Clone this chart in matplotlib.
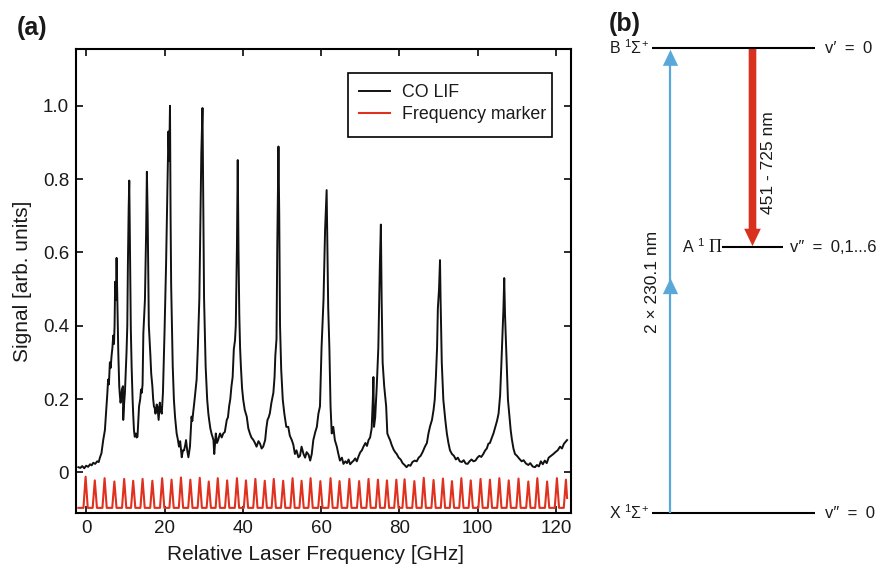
import numpy as np
import matplotlib
matplotlib.use("Agg")
import matplotlib.pyplot as plt
from matplotlib.patches import FancyArrowPatch, Rectangle

plt.rcParams['font.family'] = ['Liberation Sans', 'DejaVu Sans']
plt.rcParams['mathtext.fontset'] = 'custom'
plt.rcParams['mathtext.rm'] = 'Liberation Sans'
plt.rcParams['mathtext.it'] = 'Liberation Sans:italic'

# CO LIF spectrum: (relative laser frequency [GHz], signal [arb. units])
co_lif = [
    (-2.0, 0.014), (-1.5, 0.012), (-1.0, 0.017), (-0.5, 0.011), (0.0, 0.018),
    (0.5, 0.015), (1.0, 0.022), (1.4, 0.019), (1.8, 0.026), (2.3, 0.023),
    (2.8, 0.030), (3.2, 0.028), (3.5, 0.040), (3.9, 0.052), (4.35, 0.088),
    (4.78, 0.115), (5.2, 0.180), (5.4, 0.215), (5.6, 0.253), (5.8, 0.240),
    (6.05, 0.300), (6.25, 0.285), (6.48, 0.318), (6.7, 0.340), (6.9, 0.373),
    (7.1, 0.350), (7.25, 0.400), (7.4, 0.520), (7.6, 0.470), (7.76, 0.585),
    (7.9, 0.500), (8.0, 0.447), (8.2, 0.327), (8.44, 0.235), (8.6, 0.210),
    (8.78, 0.190), (8.95, 0.205), (9.12, 0.226), (9.38, 0.235), (9.46, 0.143),
    (9.7, 0.190), (9.89, 0.217), (10.1, 0.270), (10.3, 0.327), (10.5, 0.400),
    (10.65, 0.567), (10.85, 0.720), (11.0, 0.796),
    (11.2, 0.600), (11.4, 0.390), (11.6, 0.290), (11.85, 0.200), (12.0, 0.160),
    (12.2, 0.115), (12.4, 0.097), (12.7, 0.106), (12.9, 0.095), (13.1, 0.097),
    (13.3, 0.140), (13.5, 0.180), (13.8, 0.200), (14.0, 0.226), (14.2, 0.217),
    (14.4, 0.240), (14.6, 0.380), (15.0, 0.470), (15.3, 0.650), (15.5, 0.820),
    (15.7, 0.700), (16.0, 0.400), (16.2, 0.360), (16.4, 0.318), (16.6, 0.270),
    (16.9, 0.235), (17.1, 0.200), (17.3, 0.180), (17.5, 0.175), (17.7, 0.160),
    (18.0, 0.185), (18.2, 0.180), (18.5, 0.143), (18.8, 0.190), (19.0, 0.170),
    (19.3, 0.160), (19.6, 0.217), (20.0, 0.380), (20.4, 0.567), (20.8, 0.800),
    (21.0, 0.930), (21.2, 0.850), (21.4, 1.000),
    (21.55, 0.700), (21.7, 0.510), (22.1, 0.290), (22.4, 0.198), (22.7, 0.150),
    (23.1, 0.106), (23.4, 0.090), (23.7, 0.070), (24.0, 0.085), (24.4, 0.041),
    (24.7, 0.060), (25.0, 0.060), (25.3, 0.075), (25.5, 0.088), (25.8, 0.060),
    (26.1, 0.041), (26.5, 0.070), (26.9, 0.152), (27.1, 0.140), (27.3, 0.161),
    (27.7, 0.200), (28.2, 0.253), (28.5, 0.336), (28.9, 0.475), (29.2, 0.700),
    (29.4, 0.870), (29.7, 0.994),
    (29.9, 0.750), (30.1, 0.475), (30.5, 0.290), (30.9, 0.198), (31.2, 0.160),
    (31.4, 0.143), (31.7, 0.120), (32.0, 0.106), (32.3, 0.095), (32.5, 0.088),
    (32.7, 0.050), (33.1, 0.106), (33.4, 0.080), (33.7, 0.088), (34.0, 0.100),
    (34.2, 0.106), (34.6, 0.095), (35.0, 0.106), (35.4, 0.110), (35.9, 0.143),
    (36.2, 0.150), (36.5, 0.180), (36.8, 0.200), (37.1, 0.235), (37.4, 0.260),
    (37.7, 0.336), (38.0, 0.360), (38.2, 0.400), (38.5, 0.620), (38.7, 0.852),
    (38.9, 0.600), (39.1, 0.430), (39.3, 0.340), (39.5, 0.290), (39.8, 0.230),
    (40.1, 0.198), (40.5, 0.170), (41.0, 0.152), (41.4, 0.120), (41.8, 0.106),
    (42.2, 0.095), (42.7, 0.088), (43.1, 0.080), (43.5, 0.070), (44.0, 0.085),
    (44.4, 0.078), (44.8, 0.065), (45.2, 0.070), (45.7, 0.088), (46.0, 0.120),
    (46.3, 0.143), (46.6, 0.150), (46.9, 0.161), (47.3, 0.190), (47.8, 0.217),
    (48.1, 0.260), (48.3, 0.318), (48.6, 0.364), (48.8, 0.620), (49.1, 0.889),
    (49.3, 0.700), (49.5, 0.400), (49.8, 0.280), (50.2, 0.198), (50.6, 0.160),
    (51.1, 0.124), (51.6, 0.124), (52.0, 0.100), (52.5, 0.088), (52.9, 0.075),
    (53.3, 0.050), (53.7, 0.060), (54.2, 0.041), (54.6, 0.045), (55.0, 0.070),
    (55.5, 0.050), (55.9, 0.040), (56.3, 0.055), (56.8, 0.048), (57.2, 0.032),
    (57.6, 0.050), (58.0, 0.088), (58.5, 0.110), (58.9, 0.124), (59.3, 0.160),
    (59.7, 0.180), (60.1, 0.340), (60.6, 0.470), (61.0, 0.660), (61.4, 0.770),
    (61.6, 0.600), (61.8, 0.450), (62.1, 0.340), (62.4, 0.180), (62.7, 0.106),
    (63.1, 0.124), (63.5, 0.088), (64.0, 0.070), (64.4, 0.050), (64.8, 0.032),
    (65.3, 0.040), (65.7, 0.023), (66.2, 0.030), (66.6, 0.025), (67.0, 0.035),
    (67.4, 0.022), (67.9, 0.028), (68.3, 0.032), (68.7, 0.038), (69.1, 0.030),
    (69.6, 0.045), (70.0, 0.055), (70.4, 0.060), (70.8, 0.070), (71.3, 0.080),
    (71.7, 0.072), (72.1, 0.088), (72.5, 0.095), (72.9, 0.120), (73.2, 0.200),
    (73.35, 0.260), (73.5, 0.124), (73.8, 0.150), (74.2, 0.235), (74.6, 0.340),
    (75.0, 0.570), (75.25, 0.676),
    (75.45, 0.470), (75.7, 0.300), (76.1, 0.235), (76.6, 0.180), (76.9, 0.106),
    (77.3, 0.095), (77.6, 0.088), (78.0, 0.075), (78.5, 0.062), (78.9, 0.055),
    (79.3, 0.050), (79.8, 0.040), (80.3, 0.035), (80.8, 0.025), (81.3, 0.020),
    (81.8, 0.014), (82.3, 0.020), (82.8, 0.018), (83.3, 0.028), (83.9, 0.032),
    (84.4, 0.030), (84.9, 0.040), (85.4, 0.045), (85.9, 0.055), (86.5, 0.070),
    (87.0, 0.080), (87.4, 0.106), (87.8, 0.125), (88.3, 0.143), (88.7, 0.170),
    (89.0, 0.198), (89.3, 0.260), (89.6, 0.340), (89.8, 0.447), (90.1, 0.500),
    (90.35, 0.579),
    (90.5, 0.470), (90.8, 0.300), (91.2, 0.198), (91.7, 0.143), (92.1, 0.106),
    (92.5, 0.080), (92.9, 0.060), (93.4, 0.050), (93.9, 0.045), (94.4, 0.035),
    (94.9, 0.040), (95.4, 0.030), (95.9, 0.028), (96.4, 0.033), (96.9, 0.024),
    (97.4, 0.023), (97.9, 0.030), (98.4, 0.035), (98.9, 0.030), (99.4, 0.032),
    (99.9, 0.040), (100.4, 0.045), (100.9, 0.042), (101.4, 0.050), (101.9, 0.060),
    (102.3, 0.065), (102.7, 0.078), (103.1, 0.080), (103.6, 0.095), (104.0, 0.106),
    (104.5, 0.125), (104.9, 0.140), (105.3, 0.160), (105.7, 0.210), (106.0, 0.290),
    (106.3, 0.380), (106.55, 0.447), (106.75, 0.530),
    (106.95, 0.430), (107.2, 0.355), (107.4, 0.300), (107.7, 0.198), (108.1, 0.150),
    (108.4, 0.115), (108.7, 0.090), (109.1, 0.065), (109.5, 0.050), (110.0, 0.045),
    (110.6, 0.037), (111.2, 0.030), (111.7, 0.033), (112.3, 0.024), (112.9, 0.020),
    (113.4, 0.025), (114.0, 0.016), (114.6, 0.014), (115.1, 0.020), (115.6, 0.016),
    (116.1, 0.030), (116.6, 0.022), (117.1, 0.032), (117.6, 0.025), (118.1, 0.040),
    (118.7, 0.045), (119.3, 0.050), (119.8, 0.055), (120.4, 0.060), (121.0, 0.070),
    (121.5, 0.065), (122.0, 0.078), (122.4, 0.083), (122.8, 0.088),
]
freq = [p[0] for p in co_lif]
signal = [p[1] for p in co_lif]

# Frequency marker fringes: peak position [GHz] and peak height
marker_pos = [-0.15, 2.2, 4.7, 7.2, 9.7, 12.0, 14.4, 16.9, 19.4, 21.8, 24.2,
              26.6, 29.0, 31.3, 33.6, 36.0, 38.5, 40.8, 43.2, 45.6, 47.9, 50.3,
              52.7, 55.0, 57.3, 59.8, 62.4, 64.7, 67.2, 69.7, 72.1, 74.5, 76.8,
              79.2, 81.3, 83.8, 86.2, 88.7, 91.1, 93.4, 95.8, 98.2, 100.7, 103.1,
              105.5, 107.9, 110.4, 112.9, 115.2, 117.7, 120.2, 122.5]
marker_top = [-0.012, -0.022, -0.016, -0.025, -0.018, -0.023, -0.018, -0.023,
              -0.016, -0.020, -0.014, -0.020, -0.015, -0.025, -0.016, -0.022,
              -0.016, -0.022, -0.018, -0.023, -0.018, -0.023, -0.016, -0.023,
              -0.016, -0.024, -0.016, -0.024, -0.018, -0.024, -0.018, -0.020,
              -0.022, -0.020, -0.019, -0.024, -0.015, -0.021, -0.017, -0.024,
              -0.016, -0.022, -0.018, -0.020, -0.016, -0.022, -0.017, -0.025,
              -0.016, -0.025, -0.016, -0.020]
marker_base = -0.097
marker_end = (122.8, -0.07)

xticks = [0, 20, 40, 60, 80, 100, 120]
yticks = [0, 0.2, 0.4, 0.6, 0.8, 1.0]
ytick_labels = ['0', '0.2', '0.4', '0.6', '0.8', '1.0']

# Energy levels (schematic heights) for panel (b)
level_energy = {'X': 0.0, 'A': 0.572, 'B': 1.0}
level_label = {'X': r'X $^{1}\Sigma^{+}$', 'A': r'A $^{1}$', 'B': r'B $^{1}\Sigma^{+}$'}
sp = '\u2002'
level_vib = {'X': 'v\u2033' + sp + '=' + sp + '0',
             'A': 'v\u2033' + sp + '=' + sp + '0,1...6',
             'B': 'v\u2032' + sp + '=' + sp + '0'}
pump_label = '2 \u00d7 230.1 nm'
fluor_label = '451 - 725 nm'

line_red = '#e0301e'
arrow_blue = '#5aa8da'
arrow_red = '#d8321f'
text_col = '#1a1a1a'

fig = plt.figure(figsize=(8.79, 5.68), dpi=100)

# ---- panel (a): spectrum ----
ax = fig.add_axes([76 / 879, 1 - 513 / 568, 495 / 879, 464 / 568])

mx = [-2.0]
my = [marker_base]
for c, t in zip(marker_pos[:-1], marker_top[:-1]):
    mx += [c - 0.55, c, c + 0.55]
    my += [marker_base, t, marker_base]
mx += [marker_pos[-1] - 0.55, marker_pos[-1], marker_end[0]]
my += [marker_base, marker_top[-1], marker_end[1]]

ax.plot(freq, signal, color='#111111', lw=1.4, label='CO LIF')
ax.plot(mx, my, color=line_red, lw=1.5, label='Frequency marker')

ax.set_xlim(-2.6, 123.8)
ax.set_ylim(-0.111, 1.155)
ax.set_xticks(xticks)
ax.set_yticks(yticks)
ax.set_yticklabels(ytick_labels)
ax.tick_params(direction='in', top=True, right=True, length=5, width=1.3,
               labelsize=13.5, colors=text_col, pad=5)
for s in ax.spines.values():
    s.set_linewidth(1.5)
ax.set_xlabel('Relative Laser Frequency [GHz]', fontsize=15, color=text_col)
ax.set_ylabel('Signal [arb. units]', fontsize=15, labelpad=8, color=text_col)
ax.xaxis.set_label_coords(0.484, -0.068)

leg = ax.legend(loc='upper left', bbox_to_anchor=(359 / 879, 1 - 84 / 568),
                bbox_transform=fig.transFigure, fontsize=12.8, frameon=False,
                handlelength=1.75, handletextpad=0.65, borderpad=0,
                labelspacing=0.28, borderaxespad=0)
for t in leg.get_texts():
    t.set_color(text_col)
fig.patches.append(Rectangle((348 / 879, 1 - 137 / 568), 204 / 879, 64 / 568,
                             transform=fig.transFigure, fill=False,
                             edgecolor='black', lw=1.2, zorder=5))

fig.text(32 / 879, 1 - 28 / 568, '(a)', fontsize=18, fontweight='bold',
         ha='center', va='center', color=text_col)
fig.text(625 / 879, 1 - 24 / 568, '(b)', fontsize=18, fontweight='bold',
         ha='center', va='center', color=text_col)

# ---- panel (b): level scheme ----
bx = fig.add_axes([600 / 879, 0, 279 / 879, 1])
bx.set_xlim(600, 879)
bx.set_ylim(-55 / 465, 513 / 465)
bx.axis('off')

spans = {'X': (652, 815), 'A': (722, 783), 'B': (652, 815)}
for k, e in level_energy.items():
    x0, x1 = spans[k]
    bx.plot([x0, x1], [e, e], color='black', lw=1.5, solid_capstyle='butt')
    bx.text(x0 - 3 if k != 'A' else x0 - 17, e, level_label[k], fontsize=11.5,
            ha='right', va='center', color=text_col)
    bx.text(x1 + 7 if k == 'A' else 825, e, level_vib[k], fontsize=12,
            ha='left', va='center', color=text_col)
bx.text(721.5, level_energy['A'] - 0.002, '\u03a0', fontsize=13,
        family='Liberation Serif', ha='right', va='center', color=text_col)

# two-photon excitation (blue)
xb = 670.5
bx.plot([xb, xb], [level_energy['X'], level_energy['B'] - 0.02], color=arrow_blue,
        lw=1.6, solid_capstyle='butt')
head_b = 'simple,head_length=1.15,head_width=1.1,tail_width=0.01'
for y0, y1 in [(level_energy['B'] - 0.06, level_energy['B'] - 0.004),
               (0.44, 0.505)]:
    bx.add_patch(FancyArrowPatch((xb, y0), (xb, y1), arrowstyle=head_b,
                                 mutation_scale=10, color=arrow_blue, lw=0,
                                 shrinkA=0, shrinkB=0))

# fluorescence (red)
xr = 752.5
bx.add_patch(FancyArrowPatch((xr, level_energy['B']), (xr, level_energy['A'] + 0.002),
                             arrowstyle='simple,head_length=1.25,head_width=1.2,tail_width=0.55',
                             mutation_scale=10, color=arrow_red, lw=0,
                             shrinkA=0, shrinkB=0))

bx.text(653, (513 - 282) / 465, pump_label, fontsize=12.5, rotation=90,
        ha='center', va='center', color=text_col)
bx.text(769, (513 - 163) / 465, fluor_label, fontsize=12.5, rotation=90,
        ha='center', va='center', color=text_col)

fig.savefig('out.png', dpi=100)
